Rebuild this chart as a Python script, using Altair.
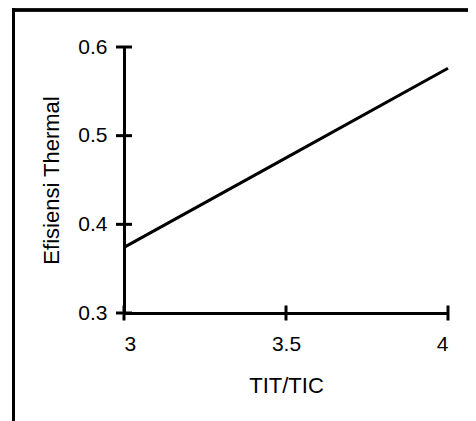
import altair as alt
import pandas as pd

# Data
tit_tic = [3.0, 3.5, 4.0]
efisiensi = [0.374, 0.475, 0.576]
x_ticks = [3.0, 3.5, 4.0]
y_ticks = [0.3, 0.4, 0.5, 0.6]

line_df = pd.DataFrame({"x": tit_tic, "y": efisiensi})
xt_df = pd.DataFrame({"x": x_ticks, "y": [0.3] * len(x_ticks)})
yt_df = pd.DataFrame({"x": [3.0] * len(y_ticks), "y": y_ticks})

FONT = "Liberation Sans"

x_scale = alt.Scale(domain=[3, 4], nice=False, zero=False)
y_scale = alt.Scale(domain=[0.3, 0.6], nice=False, zero=False)

x_axis = alt.Axis(
    title="TIT/TIC", values=x_ticks, format=".2~f", ticks=False, grid=False,
    domainColor="black", domainWidth=3,
    labelFont=FONT, labelFontSize=21, labelColor="black", labelPadding=20,
    titleFont=FONT, titleFontSize=22, titleFontWeight="normal", titleColor="black",
    titleY=79, titleBaseline="alphabetic",
)
y_axis = alt.Axis(
    title="Efisiensi Thermal", values=y_ticks, format=".1f", ticks=False, grid=False,
    domainColor="black", domainWidth=3,
    labelFont=FONT, labelFontSize=21, labelColor="black", labelPadding=17,
    titleFont=FONT, titleFontSize=22, titleFontWeight="normal", titleColor="black",
    titleAngle=270, titleX=-66, titleY=133, titleBaseline="alphabetic", titleAlign="center",
)

line = alt.Chart(line_df).mark_line(color="black", strokeWidth=3).encode(
    x=alt.X("x:Q", scale=x_scale, axis=x_axis),
    y=alt.Y("y:Q", scale=y_scale, axis=y_axis),
)

x_tick_marks = alt.Chart(xt_df).mark_tick(
    orient="vertical", color="black", size=15, thickness=3, opacity=1
).encode(x=alt.X("x:Q", scale=x_scale), y=alt.Y("y:Q", scale=y_scale))

y_tick_marks = alt.Chart(yt_df).mark_tick(
    orient="horizontal", color="black", size=16, thickness=3, opacity=1
).encode(x=alt.X("x:Q", scale=x_scale), y=alt.Y("y:Q", scale=y_scale))

frame_top = alt.Chart(line_df).mark_rule(color="black", strokeWidth=3).encode(
    x=alt.value(-112), x2=alt.value(500), y=alt.value(-37)
)
frame_left = alt.Chart(line_df).mark_rule(color="black", strokeWidth=3).encode(
    x=alt.value(-110.5), y=alt.value(-38.5), y2=alt.value(500)
)

chart = (
    alt.layer(frame_top, frame_left, line, x_tick_marks, y_tick_marks)
    .properties(
        width=324, height=266,
        autosize=alt.AutoSizeParams(type="none"),
        padding={"left": 116, "top": 39, "right": 20, "bottom": 108},
        background="white",
    )
    .configure_view(strokeWidth=0)
)

chart.save("out.html", embed_options={"renderer": "svg", "actions": False})
